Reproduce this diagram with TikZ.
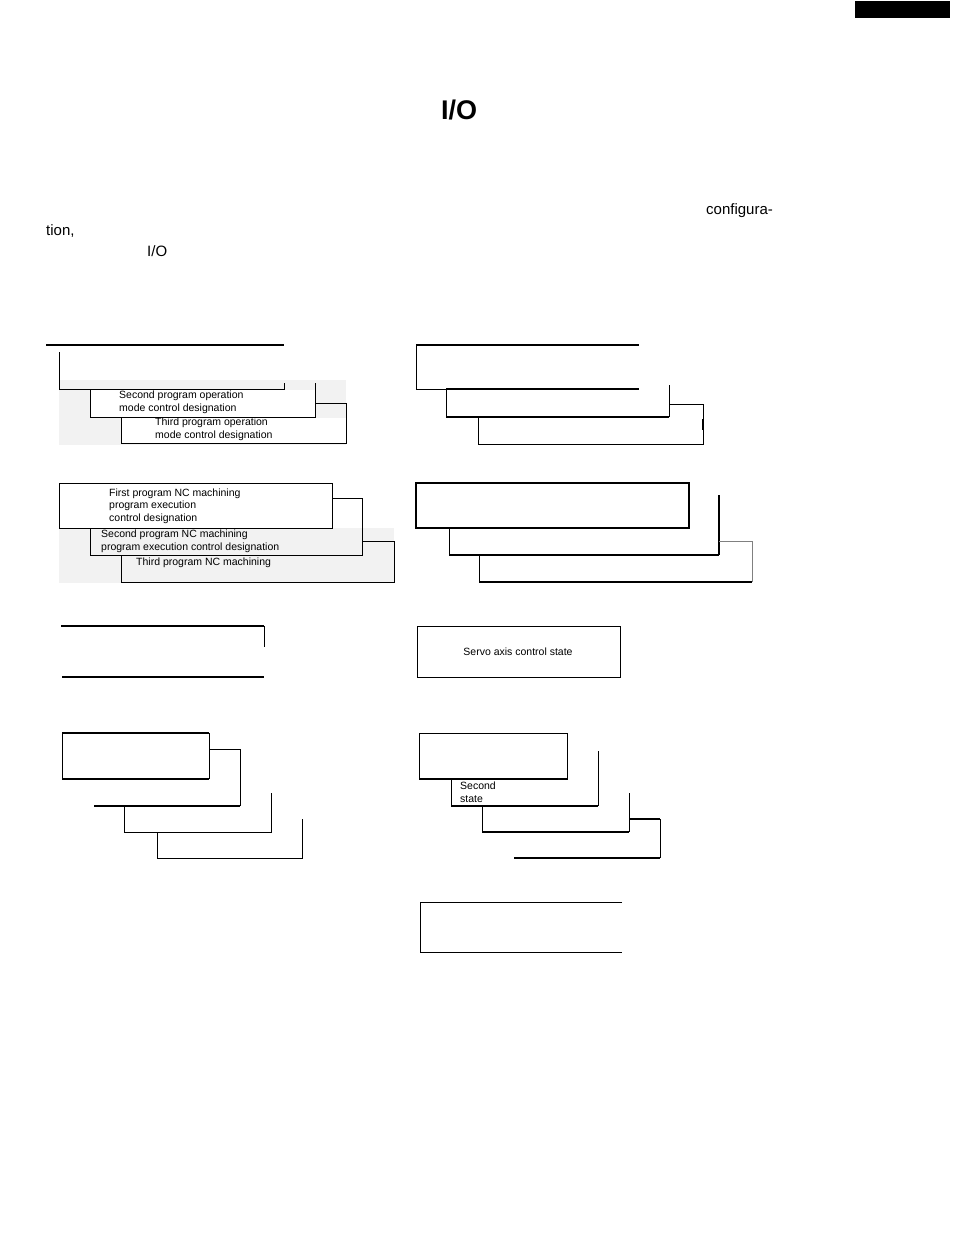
\documentclass[tikz,border=0pt]{standalone}
\usepackage{fontspec}
\setmainfont{Liberation Sans}
\begin{document}
\begin{tikzpicture}[x=1pt,y=-1pt,
  thin/.style={line width=0.9pt},
  thick2/.style={line width=1.8pt},
  lbl/.style={anchor=west,inner sep=0pt,font=\fontsize{10.5}{12.5}\selectfont,align=left},
  body/.style={anchor=west,inner sep=0pt,font=\fontsize{15}{18}\selectfont}]
\useasboundingbox (0,0) rectangle (954,1234);
\fill[black] (855,1) rectangle (950,18);
\node[anchor=center,font=\fontsize{27}{30}\selectfont\bfseries] (title) at (459,110) {I/O};
\node[body] (t1) at (706,211) {configura-};
\node[body] (t2) at (46,231) {tion,};
\node[body] (t3) at (147,251) {I/O};
% grey backgrounds
\fill[gray!10] (59,380) rectangle (346,445);
\fill[gray!10] (59,528) rectangle (394,583);
% Group 1 left
\draw[thick2] (46,345) -- (284,345);
\draw[thin] (59,352) -- (59,389) -- (284,389) -- (284,383);
\fill[white] (90.5,389.5) rectangle (314.5,416.5);
\draw[thin] (90,389) -- (90,417) -- (315,417) -- (315,383);
\fill[white] (121.5,417.5) rectangle (345.5,442.5);
\draw[thin] (121,417) -- (121,443) -- (346,443) -- (346,403) -- (315,403);
\node[lbl] (g1a) at (119,402.5) {Second program operation\\mode control designation};
\node[lbl] (g1b) at (155,429.5) {Third program operation\\mode control designation};
% Group 1 right
\draw[thick2] (416,345) -- (639,345);
\draw[thin] (416,345) -- (416,389) -- (446,389);
\draw[thick2] (446,389) -- (639,389);
\draw[thin] (446,389) -- (446,417);
\draw[thick2] (446,417) -- (669,417);
\draw[thin] (669,417) -- (669,385);
\draw[thin] (669,404) -- (703,404) -- (703,444) -- (478,444) -- (478,417);
\draw[thick2] (703,419) -- (703,430);
% Group 2 left
\draw[thin,fill=white] (59,483) rectangle (332,528);
\node[lbl] (g2a) at (109,506) {First program NC machining\\program execution\\control designation};
\draw[thin] (332,498) -- (362,498) -- (362,555) -- (90,555) -- (90,528);
\node[lbl] (g2b) at (101,541.5) {Second program NC machining\\program execution control designation};
\draw[thin] (362,541) -- (394,541) -- (394,582) -- (121,582) -- (121,555);
\node[lbl] (g2c) at (136,563) {Third program NC machining};
% Group 2 right
\draw[line width=1.3pt] (416,483) rectangle (689,528);
\draw[thick2] (719,495) -- (719,555);
\draw[thin] (449,528) -- (449,555);
\draw[thick2] (449,555) -- (719,555);
\draw[thin,gray] (719,541) -- (752,541) -- (752,582);
\draw[thin] (479,555) -- (479,582);
\draw[thick2] (479,582) -- (752,582);
% Group 3
\draw[thick2] (61,626) -- (264,626);
\draw[thin] (264,626) -- (264,647);
\draw[thick2] (62,677) -- (264,677);
\draw[thin] (417,626) rectangle (620,677);
\node[anchor=center,inner sep=0pt,font=\fontsize{10.5}{12.5}\selectfont] (servo) at (518,652) {Servo axis control state};
% Group 4 left
\draw[thin] (62,733) -- (62,779);
\draw[thick2] (62,733) -- (209,733);
\draw[thick2] (62,779) -- (209,779);
\draw[thin] (209,733) -- (209,779);
\draw[thin] (209,749) -- (240,749) -- (240,806);
\draw[thick2] (94,806) -- (240,806);
\draw[thin] (271,793) -- (271,832) -- (124,832) -- (124,806);
\draw[thin] (302,819) -- (302,858) -- (157,858) -- (157,832);
% Group 4 right
\draw[thin] (419,733) rectangle (567,779);
\draw[thick2] (419,779) -- (567,779);
\draw[thin] (598,751) -- (598,806);
\draw[thin] (451,779) -- (451,806);
\draw[thick2] (451,806) -- (598,806);
\node[lbl] (g4a) at (460,792) {Second\\state};
\draw[thin] (629,793) -- (629,832);
\draw[thin] (482,806) -- (482,832);
\draw[thick2] (482,832) -- (629,832);
\draw[thick2] (629,819) -- (660,819);
\draw[thin] (660,819) -- (660,858);
\draw[thick2] (514,858) -- (660,858);
% Group 5
\draw[thin] (622,902) -- (420,902) -- (420,952) -- (622,952);
\end{tikzpicture}
\end{document}
